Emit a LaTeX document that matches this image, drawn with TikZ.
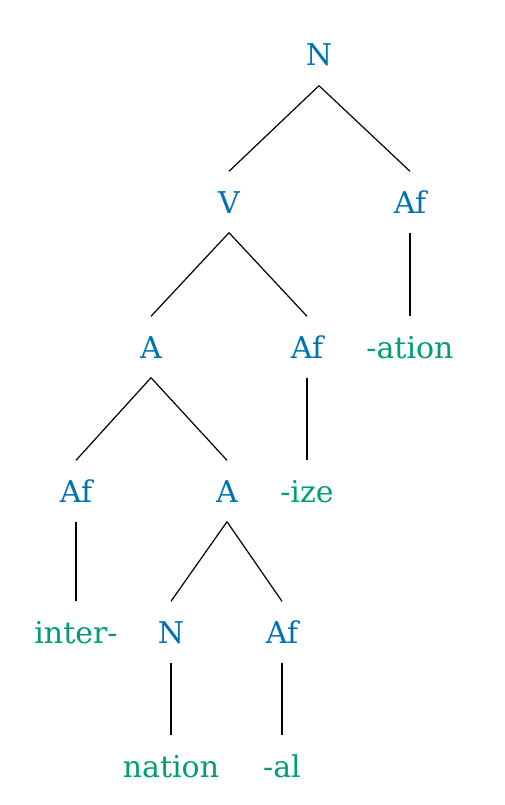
\documentclass[tikz,border=0pt]{standalone}
\usepackage{fontspec}
\setmainfont{DejaVu Serif}
\definecolor{tagblue}{RGB}{0,114,178}
\definecolor{wordgreen}{RGB}{0,158,115}
\tikzset{
  cat/.style={text=tagblue, font=\fontsize{30}{36}\selectfont, inner xsep=2pt, inner ysep=19.5pt, text height=22pt, text depth=0pt},
  morph/.style={cat, text=wordgreen},
  branch/.style={line width=1.2pt}
}
\begin{document}
\begin{tikzpicture}[x=1pt,y=-1pt]
    \useasboundingbox (0,0) rectangle (505,805);

    % Categorías
    \node[cat] (n0) at (319,55) {N};
    \node[cat] (v) at (229,202) {V};
    \node[cat] (af0) at (410,202) {Af};
    \node[cat] (a0) at (151,347) {A};
    \node[cat] (af1) at (307,347) {Af};
    \node[cat] (af2) at (76,491) {Af};
    \node[cat] (a1) at (227,491) {A};
    \node[cat] (n1) at (171,632) {N};
    \node[cat] (af3) at (282,632) {Af};

    % Morfemas
    \node[morph] (ation) at (410,347) {-ation};
    \node[morph] (ize) at (307,491) {-ize};
    \node[morph] (inter) at (76,632) {inter-};
    \node[morph] (nation) at (171,766) {nation};
    \node[morph] (al) at (282,766) {-al};

    % Ramas
    \draw[branch] (n0.south) -- (v.north);
    \draw[branch] (n0.south) -- (af0.north);
    \draw[branch] (v.south) -- (a0.north);
    \draw[branch] (v.south) -- (af1.north);
    \draw[branch] (af0.south) -- (ation.north);
    \draw[branch] (a0.south) -- (af2.north);
    \draw[branch] (a0.south) -- (a1.north);
    \draw[branch] (af1.south) -- (ize.north);
    \draw[branch] (af2.south) -- (inter.north);
    \draw[branch] (a1.south) -- (n1.north);
    \draw[branch] (a1.south) -- (af3.north);
    \draw[branch] (n1.south) -- (nation.north);
    \draw[branch] (af3.south) -- (al.north);
\end{tikzpicture}
\end{document}
